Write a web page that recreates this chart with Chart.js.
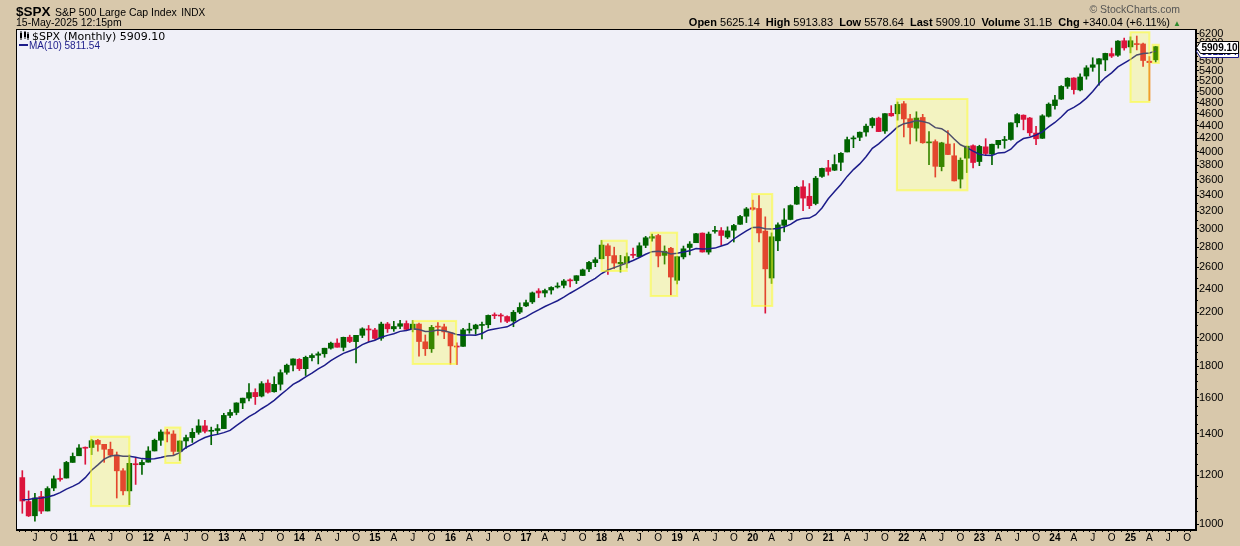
<!DOCTYPE html>
<html>
<head>
<meta charset="utf-8">
<title>$SPX Monthly</title>
<script src="https://cdn.jsdelivr.net/npm/chart.js@4.4.1/dist/chart.umd.min.js"></script>
<style>
  body { margin: 0; background: #d8c8ab; }
  #wrap { position: relative; width: 1240px; height: 546px; background: #d8c8ab; overflow: hidden; }
  #c { position: absolute; left: 0; top: 0; }
  .t { position: absolute; white-space: nowrap; font-family: 'Liberation Sans', Arial, sans-serif; color: #000; line-height: 1; }
  .g { margin-left: 3px; }
</style>
</head>
<body>
<div id="wrap">
  <canvas id="c" width="1240" height="546"></canvas>
  <div class="t" style="left:16px; top:3px;"><b style="font-size:13.5px">$SPX</b> <span style="font-size:10.5px">S&amp;P 500 Large Cap Index</span> <span style="font-size:10px">INDX</span></div>
  <div class="t" style="left:16px; top:17px; font-size:10.5px;">15-May-2025 12:15pm</div>
  <div class="t" style="right:60px; top:4px; font-size:10.5px; color:#555;">&copy; StockCharts.com</div>
  <div class="t" style="right:59px; top:17px; font-size:11px;"><b>Open</b> 5625.14 <b class="g">High</b> 5913.83 <b class="g">Low</b> 5578.64 <b class="g">Last</b> 5909.10 <b class="g">Volume</b> 31.1B <b class="g">Chg</b> +340.04 (+6.11%) <span style="color:#2e8b2e; font-size:8px;">&#9650;</span></div>
  <div class="t" style="left:32px; top:31px; font-family:'DejaVu Sans', sans-serif; font-size:11px;">$SPX (Monthly) 5909.10</div>
  <div class="t" style="left:29px; top:41px; font-size:10px; color:#1c1c8a;">MA(10) 5811.54</div>
</div>
<script>
// monthly candles, May 2010 .. May 2025
const startYear = 2010;
const startMonth = 4; // May (0-based)
const slotCount = 187; // May 2010 .. Nov 2025 on the axis

const opens = [
  1188.58, 1087.30, 1031.10, 1107.53, 1049.72, 1143.49, 1185.71, 1186.60,
  1257.62, 1289.14, 1328.64, 1329.48, 1365.21, 1345.20, 1320.64, 1292.59, 1219.12, 1131.21, 1251.00, 1246.91,
  1258.86, 1312.45, 1365.90, 1408.47, 1397.86, 1309.87, 1362.33, 1379.32, 1406.54, 1440.90, 1412.20, 1416.18,
  1426.19, 1498.11, 1514.68, 1569.18, 1597.55, 1631.71, 1609.78, 1689.42, 1635.95, 1682.41, 1758.70, 1806.55,
  1845.86, 1782.68, 1857.68, 1873.96, 1884.39, 1923.87, 1960.79, 1929.80, 2004.07, 1971.44, 2018.21, 2065.78,
  2058.90, 1996.67, 2105.23, 2067.63, 2087.38, 2108.64, 2067.00, 2104.49, 1970.09, 1919.65, 2080.76, 2082.93,
  2038.20, 1936.94, 1937.09, 2056.62, 2067.17, 2093.94, 2099.34, 2173.15, 2171.33, 2164.33, 2128.68, 2200.17,
  2251.57, 2285.59, 2380.13, 2362.34, 2388.50, 2415.65, 2431.39, 2477.10, 2474.42, 2521.20, 2583.21, 2645.10,
  2683.73, 2816.45, 2715.22, 2633.45, 2642.96, 2718.70, 2704.95, 2821.17, 2896.96, 2926.29, 2717.58, 2790.50,
  2476.96, 2702.32, 2798.22, 2848.63, 2952.33, 2751.53, 2971.41, 2980.32, 2909.01, 2983.69, 3050.72, 3143.85,
  3244.67, 3235.66, 2974.28, 2498.08, 2869.09, 3038.78, 3105.92, 3288.26, 3507.44, 3385.87, 3296.20, 3645.87,
  3764.61, 3731.17, 3842.51, 3992.78, 4191.98, 4216.52, 4300.73, 4406.86, 4528.80, 4317.16, 4610.62, 4602.82,
  4778.14, 4519.57, 4363.14, 4540.32, 4130.61, 4149.78, 3781.00, 4112.38, 3936.73, 3609.78, 3901.79, 4087.14,
  3853.29, 4070.07, 3963.34, 4102.20, 4166.79, 4183.03, 4450.48, 4578.83, 4530.60, 4284.52, 4201.27, 4559.43,
  4745.20, 4861.11, 5098.51, 5257.97, 5029.03, 5297.15, 5471.08, 5537.84, 5623.89, 5757.73, 5723.22, 6040.11,
  5903.26, 5969.65, 5968.33, 5597.53, 5625.14
];
const highs = [
  1219.80, 1131.23, 1120.95, 1129.24, 1148.90, 1196.14, 1227.08, 1262.60,
  1302.67, 1344.07, 1332.28, 1370.58, 1370.58, 1345.20, 1356.48, 1307.38, 1229.29, 1292.66, 1277.55, 1269.37,
  1333.47, 1371.94, 1419.15, 1422.38, 1415.32, 1363.46, 1391.74, 1426.68, 1474.51, 1470.96, 1434.27, 1448.00,
  1509.94, 1530.94, 1570.28, 1597.57, 1687.18, 1654.19, 1698.78, 1709.67, 1729.86, 1775.22, 1813.55, 1849.44,
  1850.84, 1867.92, 1883.97, 1897.28, 1924.03, 1968.17, 1991.39, 2005.04, 2019.26, 2018.19, 2075.76, 2093.55,
  2072.36, 2119.59, 2117.52, 2125.92, 2134.72, 2129.87, 2132.82, 2112.66, 2020.86, 2094.32, 2116.48, 2104.27,
  2038.20, 1962.96, 2072.21, 2111.05, 2103.48, 2120.55, 2177.09, 2193.81, 2187.87, 2169.60, 2214.10, 2277.53,
  2300.99, 2371.54, 2400.98, 2398.16, 2418.71, 2453.82, 2484.04, 2490.87, 2519.44, 2582.98, 2657.74, 2694.97,
  2872.87, 2835.96, 2801.90, 2717.49, 2742.24, 2791.47, 2848.03, 2916.50, 2940.91, 2939.86, 2815.15, 2800.18,
  2708.95, 2813.49, 2860.31, 2949.52, 2954.13, 2964.15, 3027.98, 3013.59, 3021.99, 3050.10, 3154.26, 3247.93,
  3337.77, 3393.52, 3136.72, 2954.86, 3068.67, 3233.13, 3279.99, 3514.77, 3588.11, 3549.85, 3645.99, 3760.20,
  3870.90, 3950.43, 3983.87, 4218.78, 4238.04, 4302.43, 4429.97, 4537.36, 4545.85, 4608.08, 4743.83, 4808.93,
  4818.62, 4595.31, 4637.30, 4593.45, 4307.66, 4177.51, 4140.15, 4325.28, 4119.28, 3905.42, 4080.11, 4100.96,
  4094.21, 4195.44, 4110.75, 4170.06, 4231.10, 4448.47, 4607.07, 4584.62, 4541.25, 4393.57, 4587.64, 4793.30,
  4931.09, 5111.06, 5264.85, 5263.95, 5341.88, 5505.53, 5669.67, 5651.62, 5767.37, 5878.46, 6044.17, 6099.97,
  6128.18, 6147.43, 5986.09, 5695.31, 5913.83
];
const lows = [
  1040.78, 1028.33, 1010.91, 1039.70, 1049.72, 1131.87, 1173.00, 1186.60,
  1257.62, 1289.14, 1249.05, 1294.70, 1311.80, 1258.07, 1282.86, 1101.54, 1114.22, 1074.77, 1158.66, 1202.37,
  1258.86, 1312.45, 1340.03, 1357.38, 1291.98, 1266.74, 1325.41, 1354.65, 1396.56, 1403.28, 1343.35, 1398.11,
  1426.19, 1485.01, 1501.48, 1536.03, 1581.28, 1560.33, 1604.57, 1627.47, 1633.41, 1646.47, 1746.20, 1767.99,
  1770.45, 1737.92, 1834.44, 1814.36, 1859.79, 1915.98, 1930.67, 1904.78, 1964.04, 1820.66, 2001.01, 1972.56,
  1988.12, 1980.90, 2039.69, 2048.38, 2067.93, 2056.32, 2044.02, 1867.01, 1871.91, 1893.70, 2019.39, 1993.26,
  1812.29, 1810.10, 1937.09, 2033.80, 2025.91, 1991.68, 2074.02, 2147.58, 2119.12, 2114.72, 2083.79, 2187.44,
  2245.13, 2271.65, 2322.25, 2328.95, 2352.72, 2405.70, 2407.70, 2417.35, 2446.55, 2520.40, 2557.45, 2605.52,
  2682.36, 2532.69, 2585.89, 2553.80, 2594.62, 2691.99, 2698.95, 2796.34, 2864.12, 2603.54, 2631.09, 2346.58,
  2443.96, 2681.83, 2722.27, 2848.63, 2750.52, 2728.81, 2952.22, 2822.12, 2891.85, 2855.94, 3050.72, 3070.33,
  3214.64, 2855.84, 2191.86, 2447.49, 2766.64, 2965.66, 3101.17, 3284.53, 3209.45, 3233.94, 3279.74, 3633.40,
  3662.71, 3725.62, 3723.34, 3992.78, 4056.88, 4164.40, 4233.13, 4367.73, 4305.91, 4278.94, 4560.00, 4495.12,
  4222.62, 4114.65, 4157.87, 4124.28, 3810.32, 3636.87, 3721.56, 3954.53, 3584.13, 3491.58, 3698.15, 3764.49,
  3794.33, 3943.08, 3808.86, 4049.35, 4048.28, 4171.64, 4385.05, 4335.31, 4238.63, 4103.78, 4197.74, 4546.50,
  4682.11, 4853.52, 5056.82, 4953.56, 5011.05, 5234.32, 5390.95, 5119.26, 5402.62, 5674.00, 5696.51, 5832.30,
  5773.31, 5837.66, 5488.73, 4835.04, 5578.64
];
const closes = [
  1089.41, 1030.71, 1101.60, 1049.33, 1141.20, 1183.26, 1180.55, 1257.64,
  1286.12, 1327.22, 1325.83, 1363.61, 1345.20, 1320.64, 1292.28, 1218.89, 1131.42, 1253.30, 1246.96, 1257.60,
  1312.41, 1365.68, 1408.47, 1397.91, 1310.33, 1362.16, 1379.32, 1406.58, 1440.67, 1412.16, 1416.18, 1426.19,
  1498.11, 1514.68, 1569.19, 1597.57, 1630.74, 1606.28, 1685.73, 1632.97, 1681.55, 1756.54, 1805.81, 1848.36,
  1782.59, 1859.45, 1872.34, 1883.95, 1923.57, 1960.23, 1930.67, 2003.37, 1972.29, 2018.05, 2067.56, 2058.90,
  1994.99, 2104.50, 2067.89, 2085.51, 2107.39, 2063.11, 2103.84, 1972.18, 1920.03, 2079.36, 2080.41, 2043.94,
  1940.24, 1932.23, 2059.74, 2065.30, 2096.95, 2098.86, 2173.60, 2170.95, 2168.27, 2126.15, 2198.81, 2238.83,
  2278.87, 2363.64, 2362.72, 2384.20, 2411.80, 2423.41, 2470.30, 2471.65, 2519.36, 2575.26, 2647.58, 2673.61,
  2823.81, 2713.83, 2640.87, 2648.05, 2705.27, 2718.37, 2816.29, 2901.52, 2913.98, 2711.74, 2760.17, 2506.85,
  2704.10, 2784.49, 2834.40, 2945.83, 2752.06, 2941.76, 2980.38, 2926.46, 2976.74, 3037.56, 3140.98, 3230.78,
  3225.52, 2954.22, 2584.59, 2912.43, 3044.31, 3100.29, 3271.12, 3500.31, 3363.00, 3269.96, 3621.63, 3756.07,
  3714.24, 3811.15, 3972.89, 4181.17, 4204.11, 4297.50, 4395.26, 4522.68, 4307.54, 4605.38, 4567.00, 4766.18,
  4515.55, 4373.94, 4530.41, 4131.93, 4132.15, 3785.38, 4130.29, 3955.00, 3585.62, 3871.98, 4080.11, 3839.50,
  4076.60, 3970.15, 4109.31, 4169.48, 4179.83, 4450.38, 4588.96, 4507.66, 4288.05, 4193.80, 4567.80, 4769.83,
  4845.65, 5096.27, 5254.35, 5035.69, 5277.51, 5460.48, 5522.30, 5648.40, 5762.48, 5705.45, 6032.38, 5881.63,
  6040.53, 5954.50, 5611.85, 5569.06, 5909.10
];
// closes Aug 2009 - Apr 2010, needed for the first MA(10) values
const priorCloses = [1020.62, 1057.08, 1036.19, 1095.63, 1115.10, 1073.87, 1104.49, 1169.43, 1186.69];

const yTicks = [1000, 1200, 1400, 1600, 1800, 2000, 2200, 2400, 2600, 2800, 3000, 3200, 3400, 3600,
  3800, 4000, 4200, 4400, 4600, 4800, 5000, 5200, 5400, 5600, 5800, 6000, 6200];

// highlighted zones: month index range (0 = May 2010) and price range
const highlightBoxes = [
  { from: 10.9, to: 17.0, low: 1069, high: 1384 },
  { from: 22.7, to: 25.1, low: 1255, high: 1432 },
  { from: 62.0, to: 68.9, low: 1814, high: 2129 },
  { from: 92.0, to: 96.0, low: 2564, high: 2870 },
  { from: 99.8, to: 104.0, low: 2336, high: 2957 },
  { from: 115.9, to: 119.1, low: 2251, high: 3415 },
  { from: 138.9, to: 150.1, low: 3462, high: 4863 },
  { from: 176.0, to: 179.0, low: 4809, high: 6234 },
  { from: 179.5, to: 180.5, low: 5561, high: 5950 }
];

const UP = '#006400';
const DOWN = '#dc143c';
const MA_COLOR = '#1c1c8a';

// x labels: year on Jan, A / J / O on Apr, Jul, Oct
const xLabels = [];
for (let i = 0; i < slotCount; i++) {
    const m = (startMonth + i) % 12;
    const yr = startYear + Math.floor((startMonth + i) / 12);
    if (m === 0) xLabels.push(String(yr).slice(2));
    else if (m === 3) xLabels.push('A');
    else if (m === 6) xLabels.push('J');
    else if (m === 9) xLabels.push('O');
    else xLabels.push('');
}

// 10-month simple moving average of closes
const allCloses = priorCloses.concat(closes);
const ma10 = closes.map((c, i) => {
    let s = 0;
    for (let k = 0; k < 10; k++) s += allCloses[i + 9 - k];
    return s / 10;
});

const candleColors = closes.map((c, i) => c >= opens[i] ? UP : DOWN);

const decorPlugin = {
    id: 'decor',
    beforeDraw(chart) {
        const { ctx, chartArea: a } = chart;
        ctx.save();
        ctx.fillStyle = '#f0f0f8';
        ctx.fillRect(a.left, a.top, a.right - a.left, a.bottom - a.top);
        ctx.restore();
    },
    afterDatasetsDraw(chart) {
        const { ctx, chartArea: a } = chart;
        const xs = chart.scales.x, ys = chart.scales.y;
        ctx.save();
        ctx.beginPath();
        ctx.rect(a.left, a.top, a.right - a.left, a.bottom - a.top);
        ctx.clip();
        highlightBoxes.forEach(b => {
            const x1 = xs.getPixelForValue(b.from), x2 = xs.getPixelForValue(b.to);
            const y1 = ys.getPixelForValue(b.high), y2 = ys.getPixelForValue(b.low);
            ctx.fillStyle = 'rgba(255,255,0,0.22)';
            ctx.fillRect(x1, y1, x2 - x1, y2 - y1);
            ctx.strokeStyle = 'rgba(255,255,40,0.55)';
            ctx.lineWidth = 2;
            ctx.strokeRect(x1, y1, x2 - x1, y2 - y1);
        });
        ctx.restore();

        // legend glyphs
        ctx.save();
        ctx.fillStyle = '#000';
        ctx.fillRect(20, 33, 2, 5);
        ctx.fillRect(20.5, 31, 1, 9);
        ctx.fillRect(24, 32, 2, 5);
        ctx.fillRect(24.5, 31, 1, 8);
        ctx.fillRect(27, 34, 2, 4);
        ctx.fillRect(27.5, 32, 1, 8);
        ctx.fillStyle = MA_COLOR;
        ctx.fillRect(19, 44, 9, 2);
        ctx.restore();
    },
    afterDraw(chart) {
        const { ctx, chartArea: a } = chart;
        const ys = chart.scales.y;
        ctx.save();
        ctx.strokeStyle = '#000';
        ctx.lineWidth = 1;
        ctx.strokeRect(Math.round(a.left) + 0.5, Math.round(a.top) + 0.5,
            Math.round(a.right - a.left) - 1, Math.round(a.bottom - a.top) - 1);

        // minor dotted ticks on the price axis
        ctx.fillStyle = '#000';
        for (let v = 1050; v < 6300; v += (v < 2000 ? 50 : 100)) {
            if (yTicks.includes(v)) continue;
            const y = Math.round(ys.getPixelForValue(v));
            if (y > a.top && y < a.bottom) ctx.fillRect(Math.round(a.right), y, 2, 1);
        }

        const tag = (val, text, color) => {
            const y = Math.round(ys.getPixelForValue(val)) + 0.5;
            const x0 = a.right + 0.5;
            ctx.beginPath();
            ctx.moveTo(x0, y);
            ctx.lineTo(x0 + 4, y - 6);
            ctx.lineTo(1238.5, y - 6);
            ctx.lineTo(1238.5, y + 6);
            ctx.lineTo(x0 + 4, y + 6);
            ctx.closePath();
            ctx.fillStyle = '#fff';
            ctx.fill();
            ctx.strokeStyle = color;
            ctx.stroke();
            ctx.fillStyle = color;
            ctx.font = 'bold 10px "Liberation Sans", Arial, sans-serif';
            ctx.textBaseline = 'middle';
            ctx.fillText(text, x0 + 5, y + 0.5);
        };
        tag(ma10[ma10.length - 1], ma10[ma10.length - 1].toFixed(2), MA_COLOR);
        tag(closes[closes.length - 1], closes[closes.length - 1].toFixed(2), '#000');
        ctx.restore();
    }
};

new Chart(document.getElementById('c'), {
    type: 'bar',
    data: {
        datasets: [
            {
                type: 'line',
                label: 'MA(10)',
                data: ma10.map((v, i) => ({ x: i, y: v })),
                borderColor: MA_COLOR,
                borderWidth: 1.5,
                pointRadius: 0,
                tension: 0,
                order: 0
            },
            {
                label: 'body',
                data: opens.map((o, i) => ({ x: i, y: [o, closes[i]] })),
                backgroundColor: candleColors,
                barThickness: 5,
                minBarLength: 1,
                grouped: false,
                order: 1
            },
            {
                label: 'wick',
                data: lows.map((l, i) => ({ x: i, y: [l, highs[i]] })),
                backgroundColor: candleColors,
                barThickness: 1,
                grouped: false,
                order: 2
            }
        ]
    },
    options: {
        responsive: false,
        animation: false,
        devicePixelRatio: 1,
        layout: { padding: { left: 16, top: 29, right: 0, bottom: 0 } },
        plugins: { legend: { display: false }, tooltip: { enabled: false } },
        scales: {
            x: {
                type: 'linear',
                min: -0.5,
                max: 185.9,
                afterBuildTicks: (scale) => {
                    scale.ticks = xLabels.map((l, i) => ({ value: i })).filter(t => t.value <= 185);
                },
                afterFit: (scale) => { scale.height = 16; },
                grid: { drawOnChartArea: false, drawTicks: true, tickLength: 2, color: '#000' },
                border: { color: '#000' },
                ticks: {
                    autoSkip: false,
                    maxRotation: 0,
                    minRotation: 0,
                    padding: 0,
                    color: '#000',
                    callback: (v) => xLabels[v],
                    font: (c) => ({
                        family: '"Liberation Sans", Arial, sans-serif',
                        size: 10,
                        weight: (c.tick && /\d/.test(xLabels[c.tick.value])) ? 'bold' : 'normal'
                    })
                }
            },
            y: {
                type: 'logarithmic',
                position: 'right',
                min: 978,
                max: 6310,
                afterBuildTicks: (scale) => {
                    scale.ticks = yTicks.map(v => ({ value: v }));
                },
                afterFit: (scale) => { scale.width = 44; },
                grid: { drawOnChartArea: false, drawTicks: true, tickLength: 3, color: '#000' },
                border: { color: '#000' },
                ticks: {
                    autoSkip: false,
                    padding: 0,
                    color: '#000',
                    font: { family: '"Liberation Sans", Arial, sans-serif', size: 11 },
                    callback: (v) => String(v)
                }
            }
        }
    },
    plugins: [decorPlugin]
});
</script>
</body>
</html>
